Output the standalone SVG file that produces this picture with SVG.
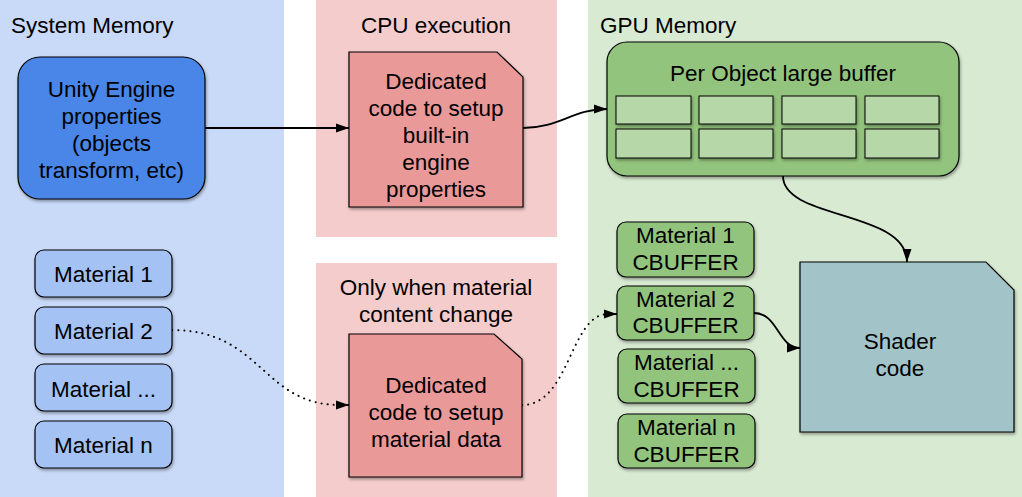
<svg xmlns="http://www.w3.org/2000/svg" width="1022" height="497" viewBox="0 0 1022 497">
<style>
text{font-family:"Liberation Sans",Arial,sans-serif;font-size:22.5px;fill:#000}
.c{text-anchor:middle}
.n{stroke:#000;stroke-width:1.2;filter:url(#sh)}
.cell{fill:#b6d7a8;stroke:#000;stroke-width:1;filter:url(#sh)}
.e{fill:none;stroke:#000;stroke-width:1.8}
.d{fill:none;stroke:#000;stroke-width:2;stroke-dasharray:0.1 6;stroke-linecap:round}
</style>
<defs>
<filter id="sh" x="-10%" y="-10%" width="130%" height="130%">
<feDropShadow dx="1" dy="2" stdDeviation="1.5" flood-color="#000" flood-opacity="0.35"/>
</filter>
<marker id="ah" markerUnits="userSpaceOnUse" markerWidth="14" markerHeight="12" refX="13" refY="6" orient="auto">
<path d="M0,1.5 L13,6 L0,10.5 Z" fill="#000"/>
</marker>
</defs>
<rect width="1022" height="497" fill="#fff"/>
<g id="panels">
<rect x="0" y="0" width="284" height="497" fill="#c9daf8"/>
<rect x="316" y="0" width="241" height="237" fill="#f4cccc"/>
<rect x="316" y="263" width="241" height="234" fill="#f4cccc"/>
<rect x="588" y="0" width="434" height="497" fill="#d9ead3"/>
<text x="11" y="33">System Memory</text>
<text class="c" x="436" y="33">CPU execution</text>
<text x="600" y="33">GPU Memory</text>
<text class="c" x="436" y="295">Only when material</text>
<text class="c" x="436" y="322">content change</text>
</g>
<g id="connectors">
<path class="e" d="M205,128 L349,128" marker-end="url(#ah)"/>
<path class="e" d="M523,128 C560,128 572,109 607,109" marker-end="url(#ah)"/>
<path class="e" d="M783,176 C783,220 907,210 907,262" marker-end="url(#ah)"/>
<path class="e" d="M754,313 C778,313 778,348 800,348" marker-end="url(#ah)"/>
<path class="d" d="M172,330 C262,330 262,405 340,405"/>
<path class="e" d="M338,405 L349,405" marker-end="url(#ah)" stroke-width="0.1"/>
<path class="d" d="M522,405 C570,405 570,314 608,314"/>
<path class="e" d="M606,314 L617,314" marker-end="url(#ah)" stroke-width="0.1"/>
</g>
<g id="unity">
<rect class="n" x="18" y="57" width="187" height="142" rx="22" fill="#4a86e8"/>
<text class="c" x="111.5" y="97">Unity Engine</text>
<text class="c" x="111.5" y="124">properties</text>
<text class="c" x="111.5" y="151">(objects</text>
<text class="c" x="111.5" y="178">transform, etc)</text>
</g>
<g id="sys-material-1"><rect class="n" x="35" y="250" width="137" height="47" rx="9" fill="#a4c2f4"/><text class="c" x="103.5" y="282">Material 1</text></g>
<g id="sys-material-2"><rect class="n" x="35" y="307" width="137" height="47" rx="9" fill="#a4c2f4"/><text class="c" x="103.5" y="339">Material 2</text></g>
<g id="sys-material-dots"><rect class="n" x="35" y="364" width="137" height="47" rx="9" fill="#a4c2f4"/><text class="c" x="103.5" y="397">Material ...</text></g>
<g id="sys-material-n"><rect class="n" x="35" y="421" width="137" height="47" rx="9" fill="#a4c2f4"/><text class="c" x="103.5" y="453">Material n</text></g>
<g id="cpu-builtin">
<path class="n" d="M349,52 L497,52 L523,77 L523,207 L349,207 Z" fill="#ea9999"/>
<text class="c" x="436" y="89">Dedicated</text>
<text class="c" x="436" y="116">code to setup</text>
<text class="c" x="436" y="143">built-in</text>
<text class="c" x="436" y="170">engine</text>
<text class="c" x="436" y="197">properties</text>
</g>
<g id="cpu-material">
<path class="n" d="M349,334 L494,334 L522,359 L522,477 L349,477 Z" fill="#ea9999"/>
<text class="c" x="436" y="393">Dedicated</text>
<text class="c" x="436" y="420">code to setup</text>
<text class="c" x="436" y="447">material data</text>
</g>
<g id="per-object-buffer">
<rect class="n" x="607" y="42" width="352" height="134" rx="20" fill="#93c47d"/>
<text class="c" x="783" y="81">Per Object large buffer</text>
<rect class="cell" x="616" y="96" width="75" height="28"/>
<rect class="cell" x="699" y="96" width="74" height="28"/>
<rect class="cell" x="782" y="96" width="74" height="28"/>
<rect class="cell" x="865" y="96" width="74" height="28"/>
<rect class="cell" x="616" y="129" width="75" height="29"/>
<rect class="cell" x="699" y="129" width="74" height="29"/>
<rect class="cell" x="782" y="129" width="74" height="29"/>
<rect class="cell" x="865" y="129" width="74" height="29"/>
</g>
<g id="cbuffer-1"><rect class="n" x="617" y="222" width="137" height="55" rx="9" fill="#93c47d"/><text class="c" x="685.5" y="243">Material 1</text><text class="c" x="685.5" y="270">CBUFFER</text></g>
<g id="cbuffer-2"><rect class="n" x="617" y="286" width="137" height="54" rx="9" fill="#93c47d"/><text class="c" x="685.5" y="307">Material 2</text><text class="c" x="685.5" y="333">CBUFFER</text></g>
<g id="cbuffer-dots"><rect class="n" x="618" y="349" width="137" height="54" rx="9" fill="#93c47d"/><text class="c" x="686.5" y="370">Material ...</text><text class="c" x="686.5" y="397">CBUFFER</text></g>
<g id="cbuffer-n"><rect class="n" x="618" y="414" width="137" height="54" rx="9" fill="#93c47d"/><text class="c" x="686.5" y="435">Material n</text><text class="c" x="686.5" y="462">CBUFFER</text></g>
<g id="shader">
<path class="n" d="M800,262 L986,262 L1014,290 L1014,432 L800,432 Z" fill="#a2c4c9"/>
<text class="c" x="900" y="349">Shader</text>
<text class="c" x="900" y="376">code</text>
</g>
</svg>
